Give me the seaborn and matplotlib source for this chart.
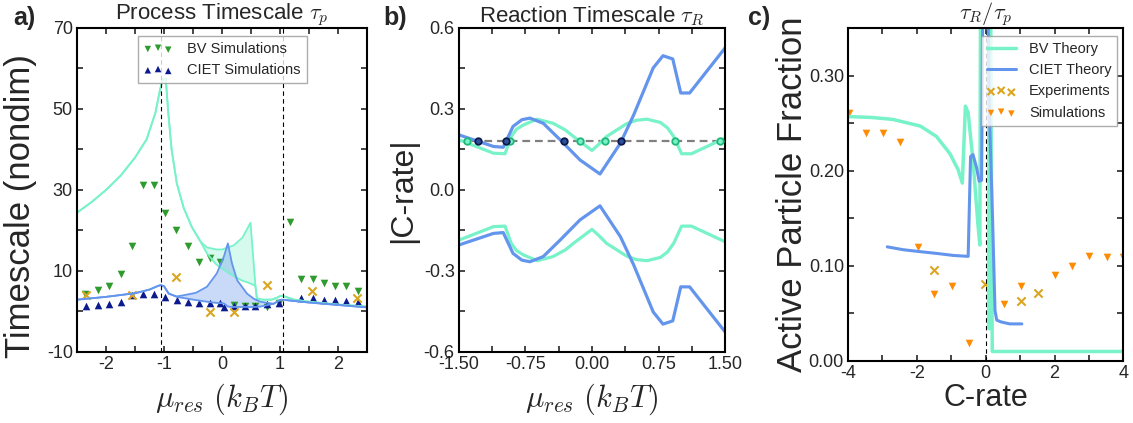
import matplotlib
matplotlib.use("Agg")
import matplotlib.pyplot as plt
import seaborn as sns
from matplotlib.ticker import MultipleLocator, FormatStrFormatter

# ---------------- a) process timescale ----------------
bv_mu = [-2.5, -2.25, -2.0, -1.75, -1.5, -1.3, -1.15, -1.08, -1.04, -1.01, -0.97, -0.93, -0.87,
         -0.78, -0.66, -0.52, -0.37, -0.26, -0.1, 0.0, 0.2, 0.35, 0.49, 0.575, 0.6, 0.7,
         0.85, 0.95, 1.0, 1.05, 1.25, 1.5, 2.0, 2.5]
bv_tau_hi = [24.4, 27.0, 30.0, 33.5, 38.0, 42.5, 49.0, 54.0, 56.5, 57.4, 57.4, 49.5, 40.0,
             31.6, 25.5, 20.8, 17.2, 15.8, 15.3, 15.3, 16.3, 18.2, 21.9, 6.3, 3.2, 2.9,
             2.9, 3.4, 3.8, 3.8, 2.9, 2.4, 1.7, 1.2]
bv_tau_lo = [24.4, 27.0, 30.0, 33.5, 38.0, 42.5, 49.0, 54.0, 56.5, 57.4, 57.4, 49.5, 40.0,
             31.6, 25.5, 20.8, 17.2, 14.3, 11.6, 10.6, 8.7, 7.6, 6.9, 6.3, 3.2, 2.9,
             2.9, 3.4, 3.8, 3.8, 2.9, 2.4, 1.7, 1.2]

ciet_mu = [-2.5, -2.0, -1.5, -1.25, -1.12, -1.06, -1.0, -0.92, -0.78, -0.66, -0.45, -0.26,
           -0.09, 0.03, 0.1, 0.17, 0.26, 0.43, 0.55, 0.66, 0.89, 0.97, 1.02, 1.1, 1.5,
           2.0, 2.5]
ciet_tau_hi = [2.9, 3.6, 4.5, 5.4, 6.2, 6.5, 6.2, 4.4, 3.7, 4.0, 4.6, 6.1,
               9.4, 13.5, 16.8, 11.9, 7.7, 4.4, 3.1, 2.4, 1.9, 2.6, 2.9, 2.8, 2.2,
               1.6, 1.0]
ciet_tau_lo = [2.9, 3.6, 4.5, 5.4, 6.2, 6.5, 6.2, 4.4, 3.6, 3.3, 2.8, 2.4,
               2.1, 2.0, 1.2, 1.1, 1.1, 1.1, 1.1, 1.2, 1.9, 2.6, 2.9, 2.8, 2.2,
               1.6, 1.0]

bv_sim_mu = [-2.36, -2.14, -1.95, -1.75, -1.56, -1.36, -1.17, -0.99, -0.79, -0.59, -0.39,
             -0.2, -0.04, 0.2, 0.39, 0.57, 0.78, 0.98, 1.17, 1.36, 1.56, 1.75, 1.95, 2.14, 2.34]
bv_sim_tau = [4.4, 5.3, 6.2, 9.2, 16.1, 31.2, 31.2, 24.2, 20.1, 16.1, 12.3,
              13.3, 12.3, 1.5, 1.3, 1.3, 1.1, 2.0, 22.2, 8.1, 8.1, 7.1, 6.2, 6.2, 5.1]

ciet_sim_mu = [-2.34, -2.14, -1.95, -1.75, -1.56, -1.36, -1.17, -0.98, -0.78, -0.59, -0.39,
               -0.2, -0.04, 0.04, 0.2, 0.39, 0.57, 0.78, 0.98, 1.36, 1.56, 1.75, 1.95, 2.14, 2.34]
ciet_sim_tau = [1.3, 1.5, 1.8, 2.4, 4.0, 4.4, 4.4, 3.6, 2.9, 2.4, 2.0,
                2.0, 2.1, 1.0, 1.3, 1.3, 1.3, 1.8, 2.1, 3.4, 3.2, 2.9, 2.8, 2.6, 2.4]

exp_mu = [-2.34, -1.56, -0.79, -0.2, 0.2, 0.78, 1.55, 2.33]
exp_tau = [4.0, 4.0, 8.4, -0.1, -0.1, 6.5, 5.0, 3.4]

spinodal_mu = [-1.05, 1.05]

# ---------------- b) reaction timescale ----------------
bv_mu_b = [-1.5, -1.11, -0.98, -0.91, -0.85, -0.77, -0.62, -0.44, -0.3, -0.21, 0.0, 0.08,
           0.165, 0.39, 0.5, 0.62, 0.77, 0.85, 0.92, 1.01, 1.12, 1.5]
bv_crate_b = [0.186, 0.136, 0.134, 0.198, 0.225, 0.241, 0.262, 0.247, 0.222, 0.198, 0.146, 0.17,
              0.198, 0.245, 0.258, 0.262, 0.25, 0.23, 0.198, 0.134, 0.134, 0.192]

ciet_mu_b = [-1.5, -1.11, -1.0, -0.96, -0.89, -0.79, -0.7, -0.55, -0.36, -0.135, 0.09, 0.32,
             0.47, 0.69, 0.80, 0.91, 1.0, 1.1, 1.5]
ciet_crate_b = [0.204, 0.161, 0.158, 0.186, 0.235, 0.26, 0.266, 0.247, 0.186, 0.111, 0.059, 0.173,
                0.278, 0.452, 0.497, 0.485, 0.359, 0.359, 0.526]

crate_ref = 0.18
bv_cross_mu = [-1.41, -0.92, -0.135, 0.147, 0.94, 1.44]
ciet_cross_mu = [-1.29, -0.97, -0.32, 0.33]

# ---------------- c) active particle fraction ----------------
bv_crate_c = [-4.0, -3.3, -2.7, -1.9, -1.43, -1.04, -0.8, -0.68, -0.62, -0.59, -0.51, -0.37,
              -0.22, -0.17, -0.15, 0.08, 0.10, 0.14, 0.19, 0.6, 4.0]
bv_frac_c = [0.257, 0.256, 0.254, 0.247, 0.236, 0.218, 0.201, 0.187, 0.24, 0.268, 0.261, 0.211,
             0.141, 0.122, 0.40, 0.40, 0.034, 0.40, 0.01, 0.01, 0.01]

ciet_crate_c = [-2.86, -2.4, -1.92, -1.4, -0.95, -0.51, -0.47, -0.44, -0.37, -0.27, -0.19, -0.12,
                -0.08, 0.06, 0.1, 0.2, 0.27, 0.32, 0.45, 0.7, 1.05]
ciet_frac_c = [0.120, 0.117, 0.115, 0.113, 0.111, 0.110, 0.17, 0.215, 0.217, 0.204, 0.189, 0.19,
               0.40, 0.40, 0.269, 0.148, 0.053, 0.043, 0.041, 0.039, 0.039]

exp_crate_c = [-1.5, -0.01, 1.02, 1.51]
exp_frac_c = [0.096, 0.081, 0.063, 0.071]

sim_crate_c = [-3.97, -3.49, -2.98, -2.48, -1.98, -1.5, -0.99, -0.49, 0.52, 1.02, 2.01, 2.52,
               3.01, 3.52, 4.0]
sim_frac_c = [0.261, 0.240, 0.240, 0.230, 0.120, 0.070, 0.079, 0.019, 0.060, 0.079, 0.090, 0.100,
              0.110, 0.109, 0.109]

BV_COL = "#78f2c9"
CIET_COL = "#6495ed"
BV_SIM_COL = "#2e9b2e"
CIET_SIM_COL = "#0b1a8c"
EXP_COL = "#daa520"
SIM_COL = "#ff8c00"

sns.set_style("ticks")
plt.rcParams["font.family"] = ["Liberation Sans", "DejaVu Sans"]
plt.rcParams["mathtext.fontset"] = "cm"
plt.rcParams["axes.unicode_minus"] = False
plt.rcParams["axes.edgecolor"] = "black"
plt.rcParams["axes.linewidth"] = 1.5

fig = plt.figure(figsize=(11.33, 4.23), dpi=100)
ax_a = fig.add_axes([0.068, 0.168, 0.256, 0.766])
ax_b = fig.add_axes([0.405, 0.168, 0.235, 0.766])
ax_c = fig.add_axes([0.7485, 0.1466, 0.243, 0.787])

xlabel_mu = r"$\mu_{res}\ (k_BT)$"

# ---- panel a ----
ax = ax_a
ax.fill_between(bv_mu, bv_tau_lo, bv_tau_hi, color=BV_COL, alpha=0.3, lw=0)
ax.fill_between(ciet_mu, ciet_tau_lo, ciet_tau_hi, color=CIET_COL, alpha=0.35, lw=0)
for yy in (bv_tau_hi, bv_tau_lo):
    sns.lineplot(x=bv_mu, y=yy, ax=ax, color=BV_COL, lw=1.3, sort=False, estimator=None)
for yy in (ciet_tau_hi, ciet_tau_lo):
    sns.lineplot(x=ciet_mu, y=yy, ax=ax, color=CIET_COL, lw=1.3, sort=False, estimator=None)
for m in spinodal_mu:
    ax.axvline(m, color="black", lw=0.8, dashes=(4, 3))
sns.scatterplot(x=bv_sim_mu, y=bv_sim_tau, ax=ax, marker="v", s=30, color=BV_SIM_COL, linewidth=0)
h_bv = ax.collections[-1]
sns.scatterplot(x=ciet_sim_mu, y=ciet_sim_tau, ax=ax, marker="^", s=30, color=CIET_SIM_COL, linewidth=0)
h_ciet = ax.collections[-1]
sns.scatterplot(x=exp_mu, y=exp_tau, ax=ax, marker="x", s=35, color=EXP_COL, linewidth=1.5)
ax.set_xlim(-2.5, 2.5)
ax.set_ylim(-10, 70)
ax.xaxis.set_major_locator(MultipleLocator(1))
ax.xaxis.set_minor_locator(MultipleLocator(0.5))
ax.yaxis.set_minor_locator(MultipleLocator(10))
ax.set_yticks([-10, 10, 30, 50, 70])
ax.set_title(r"Process Timescale $\tau_p$", fontsize=16, pad=3)
ax.set_ylabel("Timescale (nondim)", fontsize=25)
ax.set_xlabel(xlabel_mu, fontsize=22)
ax.yaxis.set_label_coords(-0.138, 0.45)
ax.xaxis.set_label_coords(0.5, -0.09)
ax.legend([h_bv, h_ciet], ["BV Simulations", "CIET Simulations"], loc="upper center",
          bbox_to_anchor=(0.5, 0.975), borderaxespad=0, fontsize=10.5, scatterpoints=3,
          fancybox=False, edgecolor="#999999", handlelength=2.0, handletextpad=1.0,
          markerscale=0.85)

# ---- panel b ----
ax = ax_b
ax.axhline(crate_ref, color="#808080", lw=1.6, dashes=(3.5, 2.2))
sns.lineplot(x=bv_mu_b, y=bv_crate_b, ax=ax, color=BV_COL, lw=2.3, sort=False, estimator=None)
sns.lineplot(x=bv_mu_b, y=[-v for v in bv_crate_b], ax=ax, color=BV_COL, lw=2.3, sort=False, estimator=None)
sns.lineplot(x=ciet_mu_b, y=ciet_crate_b, ax=ax, color=CIET_COL, lw=2.3, sort=False, estimator=None)
sns.lineplot(x=ciet_mu_b, y=[-v for v in ciet_crate_b], ax=ax, color=CIET_COL, lw=2.3, sort=False, estimator=None)
sns.scatterplot(x=bv_cross_mu, y=[crate_ref] * len(bv_cross_mu), ax=ax, marker="o", s=22,
                color=BV_COL, edgecolor="#1fb878", linewidth=1.3, zorder=5)
sns.scatterplot(x=ciet_cross_mu, y=[crate_ref] * len(ciet_cross_mu), ax=ax, marker="o", s=22,
                color="#2f4f9f", edgecolor="#0b1a4a", linewidth=1.3, zorder=5)
ax.set_xlim(-1.5, 1.5)
ax.set_ylim(-0.6, 0.6)
ax.xaxis.set_major_locator(MultipleLocator(0.75))
ax.xaxis.set_minor_locator(MultipleLocator(0.375))
ax.yaxis.set_major_locator(MultipleLocator(0.3))
ax.yaxis.set_minor_locator(MultipleLocator(0.15))
ax.xaxis.set_major_formatter(FormatStrFormatter("%.2f"))
ax.yaxis.set_major_formatter(FormatStrFormatter("%.1f"))
ax.set_title(r"Reaction Timescale $\tau_R$", fontsize=16, pad=3)
ax.set_ylabel("|C-rate|", fontsize=23)
ax.set_xlabel(xlabel_mu, fontsize=22)
ax.yaxis.set_label_coords(-0.154, 0.5)
ax.xaxis.set_label_coords(0.5, -0.09)

# ---- panel c ----
ax = ax_c
ax.axvline(0, color="black", lw=0.8, dashes=(4, 3))
sns.lineplot(x=bv_crate_c, y=bv_frac_c, ax=ax, color=BV_COL, lw=2.5, sort=False, estimator=None)
h_bvt = ax.lines[-1]
sns.lineplot(x=ciet_crate_c, y=ciet_frac_c, ax=ax, color=CIET_COL, lw=2.2, sort=False, estimator=None)
h_ciett = ax.lines[-1]
sns.scatterplot(x=exp_crate_c, y=exp_frac_c, ax=ax, marker="x", s=35, color=EXP_COL, linewidth=1.5)
h_exp = ax.collections[-1]
sns.scatterplot(x=sim_crate_c, y=sim_frac_c, ax=ax, marker="v", s=30, color=SIM_COL, linewidth=0)
h_sim = ax.collections[-1]
ax.set_xlim(-4, 4)
ax.set_ylim(0, 0.35)
ax.xaxis.set_major_locator(MultipleLocator(2))
ax.xaxis.set_minor_locator(MultipleLocator(1))
ax.yaxis.set_major_locator(MultipleLocator(0.1))
ax.yaxis.set_minor_locator(MultipleLocator(0.05))
ax.xaxis.set_major_formatter(FormatStrFormatter("%d"))
ax.yaxis.set_major_formatter(FormatStrFormatter("%.2f"))
ax.set_title(r"$\tau_R/\tau_p$", fontsize=16, pad=3)
ax.set_ylabel("Active Particle Fraction", fontsize=25)
ax.set_xlabel("C-rate", fontsize=22)
ax.yaxis.set_label_coords(-0.142, 0.5)
ax.xaxis.set_label_coords(0.5, -0.065)
ax.legend([h_bvt, h_ciett, h_exp, h_sim], ["BV Theory", "CIET Theory", "Experiments", "Simulations"],
          loc="upper right", bbox_to_anchor=(0.978, 0.976), borderaxespad=0, fontsize=10.5,
          scatterpoints=3, fancybox=False, edgecolor="#999999", handlelength=2.0,
          handletextpad=0.9, markerscale=0.85)

for ax in (ax_a, ax_b, ax_c):
    ax.tick_params(which="both", direction="in", top=True, right=True, length=4,
                   width=1.2, labelsize=13, pad=3)
    for sp in ax.spines.values():
        sp.set_visible(True)
        sp.set_linewidth(1.5)

fig.text(0.012, 0.985, "a)", fontsize=18, fontweight="bold", va="top")
fig.text(0.338, 0.985, "b)", fontsize=18, fontweight="bold", va="top")
fig.text(0.660, 0.985, "c)", fontsize=18, fontweight="bold", va="top")

fig.savefig("out.png", dpi=100)
